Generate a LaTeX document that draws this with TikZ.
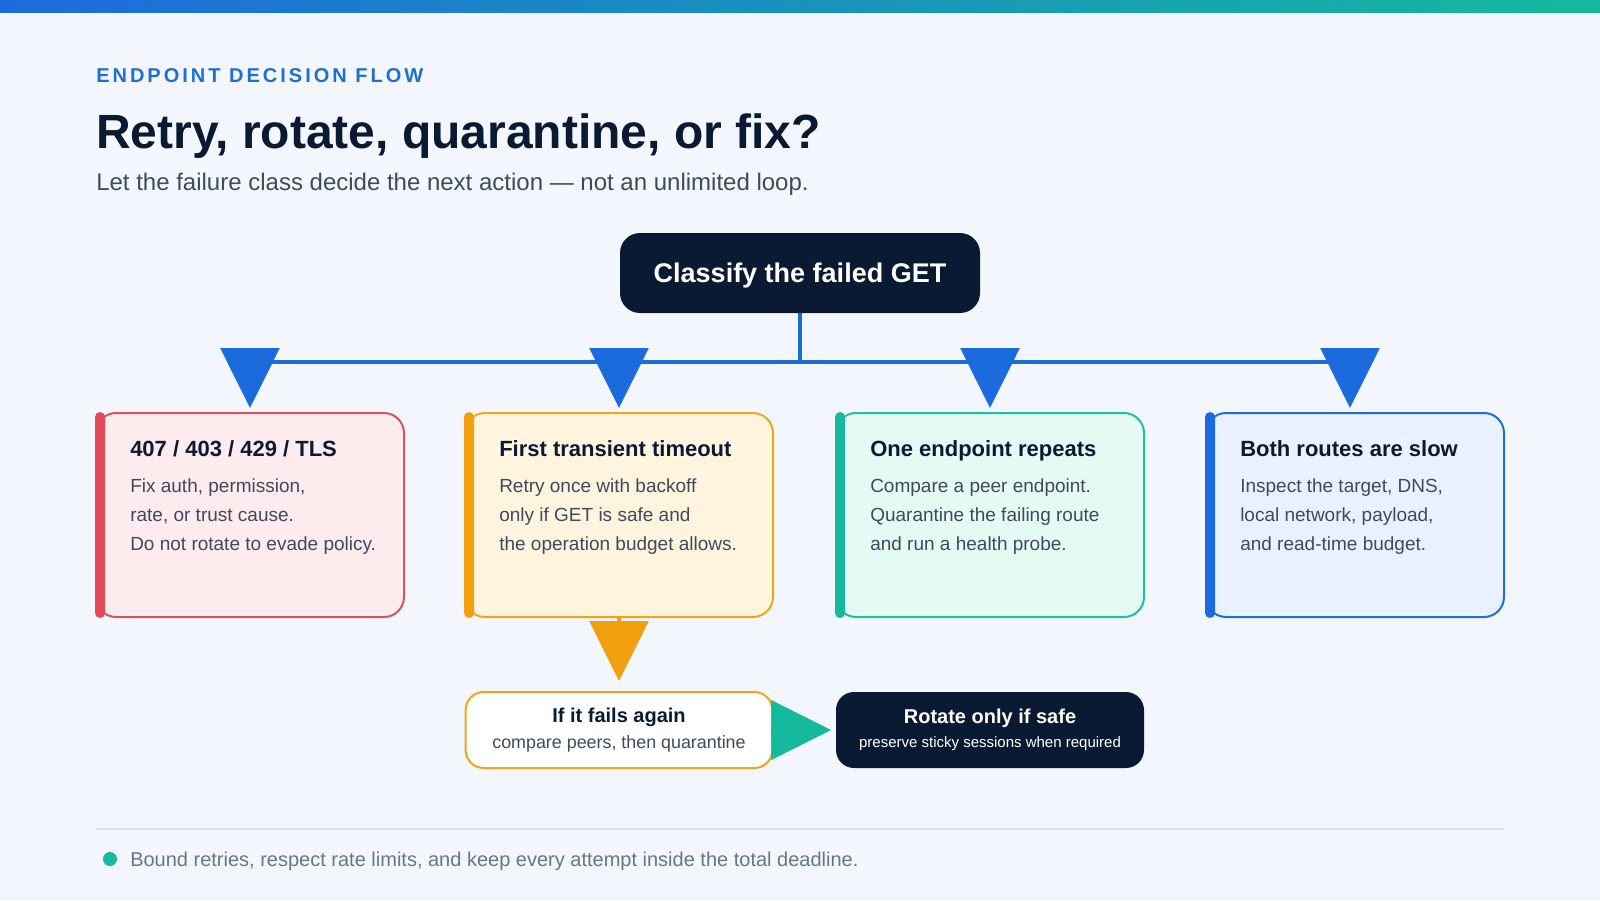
\documentclass[tikz,border=0pt]{standalone}
\usepackage{fontspec}
\setmainfont{Liberation Sans}
\newfontfamily\eyebrowfont[LetterSpace=15]{Liberation Sans}
\usetikzlibrary{arrows.meta,positioning}

\definecolor{bgcol}{HTML}{F3F7FD}
\definecolor{navy}{HTML}{0B1A33}
\definecolor{flowblue}{HTML}{1C6BDC}
\definecolor{eyeblue}{HTML}{1F6FD1}
\definecolor{subgray}{HTML}{3E4B5E}
\definecolor{bodygray}{HTML}{3F4A5C}
\definecolor{footgray}{HTML}{6B7586}
\definecolor{redline}{HTML}{D6545E}
\definecolor{redbar}{HTML}{E24B55}
\definecolor{redfill}{HTML}{FDEBEE}
\definecolor{orline}{HTML}{F0A51B}
\definecolor{orbar}{HTML}{F29F0D}
\definecolor{orfill}{HTML}{FFF5DF}
\definecolor{tealline}{HTML}{1FBFA3}
\definecolor{tealbar}{HTML}{15B99C}
\definecolor{tealfill}{HTML}{E6FAF4}
\definecolor{blueline}{HTML}{1D6FD6}
\definecolor{bluefill}{HTML}{E8F1FD}
\definecolor{rulegray}{HTML}{DCE2EA}

\begin{document}
\begin{tikzpicture}[x=0.75pt,y=-0.75pt,
  card/.style={rounded corners=15pt,line width=1.5pt,minimum width=231pt,minimum height=153pt,inner sep=0pt},
  cardtitle/.style={anchor=base west,inner sep=0pt,text=navy,font=\bfseries\fontsize{16.5}{20}\selectfont},
  cardbody/.style={anchor=north west,inner sep=0pt,align=left,text=bodygray,font=\fontsize{14.25}{21.75}\selectfont},
  minibox/.style={rounded corners=13.5pt,line width=1.5pt,minimum width=230pt,minimum height=57pt,align=center,inner sep=0pt},
  bus/.style={flowblue,line width=3pt},
  drop/.style={-{Triangle[length=45pt,width=44pt]},flowblue,line width=3pt,shorten >=3pt}]
\fill[bgcol] (0,0) rectangle (1600,900);
\useasboundingbox (0,0) rectangle (1600,900);
\shade[left color=flowblue,right color=tealbar] (0,0) rectangle (1600,12);
% heading
\node[anchor=base west,inner sep=0pt,text=eyeblue,font=\eyebrowfont\bfseries\fontsize{15}{18}\selectfont] (eyebrow) at (96,82) {ENDPOINT DECISION FLOW};
\node[anchor=base west,inner sep=0pt,text=navy,font=\bfseries\fontsize{36}{40}\selectfont] (title) at (96,148) {Retry, rotate, quarantine, or fix?};
\node[anchor=base west,inner sep=0pt,text=subgray,font=\fontsize{18}{21}\selectfont] (subtitle) at (96,190) {Let the failure class decide the next action — not an unlimited loop.};
% root and bus
\node[fill=navy,rounded corners=15pt,minimum width=270pt,minimum height=60pt,text depth=0pt,text=white,font=\bfseries\fontsize{20.25}{24}\selectfont] (root) at (800,273) {Classify the failed GET};
\coordinate (busL) at (250,362);
\coordinate (busR) at (1350,362);
\draw[bus] (root.south) -- (root.south |- busL);
\draw[bus] (busL) -- (busR);
% cards
\node[card,draw=redline,fill=redfill] (auth) at (250,515) {};
\node[card,draw=orline,fill=orfill] (transient) at (619,515) {};
\node[card,draw=tealline,fill=tealfill] (repeats) at (990,515) {};
\node[card,draw=blueline,fill=bluefill,minimum width=223.5pt] (slow) at (1355,515) {};
\fill[redbar,rounded corners=3.75pt] (auth.north west) rectangle ([xshift=7.5pt]auth.south west);
\fill[orbar,rounded corners=3.75pt] (transient.north west) rectangle ([xshift=7.5pt]transient.south west);
\fill[tealbar,rounded corners=3.75pt] (repeats.north west) rectangle ([xshift=7.5pt]repeats.south west);
\fill[flowblue,rounded corners=3.75pt] (slow.north west) rectangle ([xshift=7.5pt]slow.south west);
\node[cardtitle] (authT) at (130,456) {407 / 403 / 429 / TLS};
\node[cardbody] (authB) at (130,478) {Fix auth, permission,\\rate, or trust cause.\\Do not rotate to evade policy.};
\node[cardtitle] (transientT) at (499,456) {First transient timeout};
\node[cardbody] (transientB) at (499,478) {Retry once with backoff\\only if GET is safe and\\the operation budget allows.};
\node[cardtitle] (repeatsT) at (870,456) {One endpoint repeats};
\node[cardbody] (repeatsB) at (870,478) {Compare a peer endpoint.\\Quarantine the failing route\\and run a health probe.};
\node[cardtitle] (slowT) at (1240,456) {Both routes are slow};
\node[cardbody] (slowB) at (1240,478) {Inspect the target, DNS,\\local network, payload,\\and read-time budget.};
\draw[drop] (auth.north |- busL) -- (auth.north);
\draw[drop] (transient.north |- busL) -- (transient.north);
\draw[drop] (repeats.north |- busL) -- (repeats.north);
\draw[drop] (busR) -- (busR |- slow.north);
% follow-up
\node[minibox,draw=orline,fill=white,text=navy] (again) at (619,730) {{\bfseries\fontsize{15}{19.5}\selectfont If it fails again}\\[6pt]{\color{bodygray}\fontsize{13.4}{19.5}\selectfont compare peers, then quarantine}};
\node[minibox,fill=navy,text=white,minimum width=231pt] (rotate) at (990,730) {{\bfseries\fontsize{15}{19.5}\selectfont Rotate only if safe}\\[6pt]{\fontsize{11.25}{19.5}\selectfont preserve sticky sessions when required}};
\draw[-{Triangle[length=45pt,width=44pt]},orbar,line width=3pt,shorten >=7.5pt] (transient.south) -- (again.north);
\draw[-{Triangle[length=45pt,width=45pt]},tealbar,shorten >=3pt] (again.east) -- (rotate.west);
% footer
\draw[rulegray,line width=1.5pt] (96,829) -- (1504,829);
\fill[tealbar] (110,859) circle (5.25pt);
\node[anchor=base west,inner sep=0pt,text=footgray,font=\fontsize{15}{18}\selectfont] (note) at (130,866) {Bound retries, respect rate limits, and keep every attempt inside the total deadline.};
\end{tikzpicture}
\end{document}
